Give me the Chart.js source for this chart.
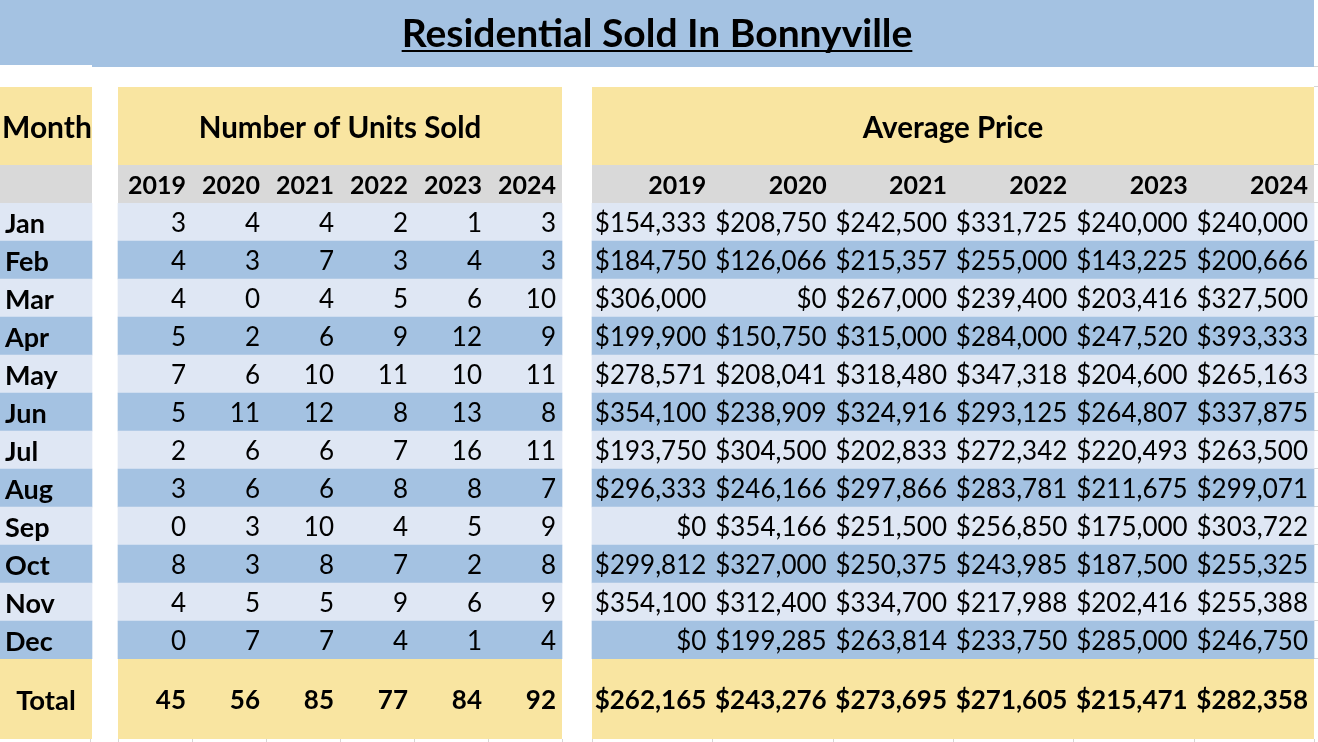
<!DOCTYPE html>
<html>
<head>
<meta charset="utf-8">
<title>Residential Sold In Bonnyville</title>
<script src="https://cdn.jsdelivr.net/npm/chart.js@4.4.1/dist/chart.umd.min.js"></script>
<style>
  html, body { margin: 0; padding: 0; background: #ffffff; }
  #wrap { width: 1318px; height: 742px; }
</style>
</head>
<body>
<div id="wrap"><canvas id="soldTable" width="1318" height="742"></canvas></div>
<script>
/* ---------- data ---------- */
const title = 'Residential Sold In Bonnyville';
const months = ['Jan', 'Feb', 'Mar', 'Apr', 'May', 'Jun', 'Jul', 'Aug', 'Sep', 'Oct', 'Nov', 'Dec'];
const years = ['2019', '2020', '2021', '2022', '2023', '2024'];

const units2019 = [3, 4, 4, 5, 7, 5, 2, 3, 0, 8, 4, 0];
const units2020 = [4, 3, 0, 2, 6, 11, 6, 6, 3, 3, 5, 7];
const units2021 = [4, 7, 4, 6, 10, 12, 6, 6, 10, 8, 5, 7];
const units2022 = [2, 3, 5, 9, 11, 8, 7, 8, 4, 7, 9, 4];
const units2023 = [1, 4, 6, 12, 10, 13, 16, 8, 5, 2, 6, 1];
const units2024 = [3, 3, 10, 9, 11, 8, 11, 7, 9, 8, 9, 4];
const unitTotals = [45, 56, 85, 77, 84, 92];

const price2019 = [154333, 184750, 306000, 199900, 278571, 354100, 193750, 296333, 0, 299812, 354100, 0];
const price2020 = [208750, 126066, 0, 150750, 208041, 238909, 304500, 246166, 354166, 327000, 312400, 199285];
const price2021 = [242500, 215357, 267000, 315000, 318480, 324916, 202833, 297866, 251500, 250375, 334700, 263814];
const price2022 = [331725, 255000, 239400, 284000, 347318, 293125, 272342, 283781, 256850, 243985, 217988, 233750];
const price2023 = [240000, 143225, 203416, 247520, 204600, 264807, 220493, 211675, 175000, 187500, 202416, 285000];
const price2024 = [240000, 200666, 327500, 393333, 265163, 337875, 263500, 299071, 303722, 255325, 255388, 246750];
const priceTotals = [262165, 243276, 273695, 271605, 215471, 282358];

const unitCols = [units2019, units2020, units2021, units2022, units2023, units2024];
const priceCols = [price2019, price2020, price2021, price2022, price2023, price2024];

/* ---------- layout / style ---------- */
const W = 1318, H = 742;
const monthBlock = [0, 92];
const unitBlock = [118, 562];
const priceBlock = [592, 1314];
const titleBottom = 67;
const headTop = 87;
const totalH = 80;
const pad = 6;

const C = {
  band: '#a4c2e2',
  light: '#dfe7f4',
  dark: '#a4c2e2',
  yellow: '#f9e5a1',
  grey: '#d9d9d9',
  text: '#000000',
  tick: '#d6d6d6',
};
const FONT = 'Lato, "Open Sans", sans-serif';

const money = (v) => '$' + v.toLocaleString('en-US');

/* ---------- table painter ---------- */
const tablePlugin = {
  id: 'tablePlugin',
  beforeDatasetsDraw(chart) {
    const { ctx, chartArea, scales } = chart;
    const x = scales.x;
    const rowH = scales.y.getPixelForValue(1) - scales.y.getPixelForValue(0);
    const subTop = chartArea.top - rowH;
    const blocks = [monthBlock, unitBlock, priceBlock];
    ctx.save();
    // title band
    ctx.fillStyle = C.band;
    ctx.fillRect(x.getPixelForValue(0), 0, x.getPixelForValue(priceBlock[1]), titleBottom - 2);
    ctx.fillRect(x.getPixelForValue(monthBlock[1]), 0, x.getPixelForValue(priceBlock[1]) - x.getPixelForValue(monthBlock[1]), titleBottom);
    blocks.forEach(([a, b]) => {
      const l = x.getPixelForValue(a), r = x.getPixelForValue(b);
      ctx.fillStyle = C.yellow;
      ctx.fillRect(l, headTop, r - l, subTop - headTop);
      ctx.fillRect(l, chartArea.bottom, r - l, totalH);
      ctx.fillStyle = C.grey;
      ctx.fillRect(l, subTop, r - l, rowH);
    });
    // faint sheet gridline stubs
    ctx.strokeStyle = C.tick;
    ctx.lineWidth = 1;
    const edges = [90, unitBlock[0]];
    for (let i = 1; i <= 6; i++) edges.push(unitBlock[0] + i * (unitBlock[1] - unitBlock[0]) / 6);
    edges.push(priceBlock[0]);
    for (let i = 1; i <= 6; i++) edges.push(priceBlock[0] + i * (priceBlock[1] - priceBlock[0]) / 6);
    edges.forEach((e) => {
      const px = Math.round(x.getPixelForValue(e)) + 0.5;
      ctx.beginPath(); ctx.moveTo(px, chartArea.bottom + totalH); ctx.lineTo(px, H); ctx.stroke();
    });
    const rows = [titleBottom, headTop, subTop, chartArea.top];
    months.forEach((_, i) => rows.push(chartArea.top + (i + 1) * rowH));
    rows.forEach((r) => {
      const py = Math.round(r) - 0.5;
      ctx.beginPath(); ctx.moveTo(x.getPixelForValue(priceBlock[1]), py); ctx.lineTo(W, py); ctx.stroke();
    });
    ctx.restore();
  },
  afterDatasetsDraw(chart) {
    const { ctx, chartArea, scales } = chart;
    const x = scales.x, y = scales.y;
    const rowH = y.getPixelForValue(1) - y.getPixelForValue(0);
    const subMid = chartArea.top - rowH / 2 + 1;
    const headMid = (headTop + chartArea.top - rowH) / 2 + 2;
    const totalMid = chartArea.bottom + totalH / 2 + 2;
    const unitW = (unitBlock[1] - unitBlock[0]) / 6;
    const priceW = (priceBlock[1] - priceBlock[0]) / 6;
    const unitRight = (i) => x.getPixelForValue(unitBlock[0] + (i + 1) * unitW) - pad;
    const priceRight = (i) => x.getPixelForValue(priceBlock[0] + (i + 1) * priceW) - pad;

    ctx.save();
    ctx.fillStyle = C.text;
    ctx.textBaseline = 'middle';

    // title with underline
    ctx.font = `bold 39px ${FONT}`;
    ctx.textAlign = 'center';
    const tx = x.getPixelForValue(priceBlock[1] / 2);
    ctx.fillText(title, tx, 34);
    const tw = ctx.measureText(title).width;
    ctx.fillRect(tx - tw / 2, 50, tw, 2);

    // block headers
    ctx.font = `bold 30px ${FONT}`;
    ctx.textAlign = 'left';
    ctx.fillText('Month', x.getPixelForValue(2), headMid);
    ctx.font = `bold 29.5px ${FONT}`;
    ctx.textAlign = 'center';
    ctx.fillText('Number of Units Sold', x.getPixelForValue((unitBlock[0] + unitBlock[1]) / 2), headMid);
    ctx.fillText('Average Price', x.getPixelForValue((priceBlock[0] + priceBlock[1]) / 2), headMid);

    // year row
    ctx.font = `bold 25px ${FONT}`;
    ctx.textAlign = 'right';
    years.forEach((yr, i) => {
      ctx.fillText(yr, unitRight(i), subMid + 1);
      ctx.fillText(yr, priceRight(i), subMid + 1);
    });

    // month rows
    months.forEach((m, r) => {
      const cy = y.getPixelForValue(r) + 2;
      ctx.font = `bold 27px ${FONT}`;
      ctx.textAlign = 'left';
      ctx.fillText(m, x.getPixelForValue(5), cy);
      ctx.font = `26px ${FONT}`;
      ctx.textAlign = 'right';
      unitCols.forEach((col, i) => ctx.fillText(String(col[r]), unitRight(i), cy));
      priceCols.forEach((col, i) => ctx.fillText(money(col[r]), priceRight(i), cy));
    });

    // totals
    ctx.font = `bold 27.5px ${FONT}`;
    ctx.textAlign = 'center';
    ctx.fillText('Total', x.getPixelForValue((monthBlock[0] + monthBlock[1]) / 2), totalMid);
    ctx.font = `bold 26px ${FONT}`;
    ctx.textAlign = 'right';
    unitTotals.forEach((v, i) => ctx.fillText(String(v), unitRight(i), totalMid));
    priceTotals.forEach((v, i) => ctx.fillText(money(v), priceRight(i), totalMid));
    ctx.restore();
  },
};

/* ---------- row backgrounds as floating bars ---------- */
const stripe = (c) => (c.dataIndex % 2 ? C.dark : C.light);
const blockBar = (label, block) => ({
  label,
  data: months.map(() => block),
  backgroundColor: stripe,
  borderWidth: 0,
  barPercentage: 1,
  categoryPercentage: 1,
  grouped: false,
});

new Chart(document.getElementById('soldTable').getContext('2d'), {
  type: 'bar',
  data: {
    labels: months,
    datasets: [
      blockBar('Month', monthBlock),
      blockBar('Number of Units Sold', unitBlock),
      blockBar('Average Price', priceBlock),
    ],
  },
  plugins: [tablePlugin],
  options: {
    indexAxis: 'y',
    responsive: false,
    animation: false,
    devicePixelRatio: 1,
    layout: { padding: { top: 203, bottom: H - 659, left: 0, right: 0 } },
    plugins: { legend: { display: false }, tooltip: { enabled: false }, title: { display: false } },
    scales: {
      x: { type: 'linear', min: 0, max: W, display: false },
      y: { type: 'category', display: false, grid: { display: false } },
    },
  },
});
</script>
</body>
</html>
